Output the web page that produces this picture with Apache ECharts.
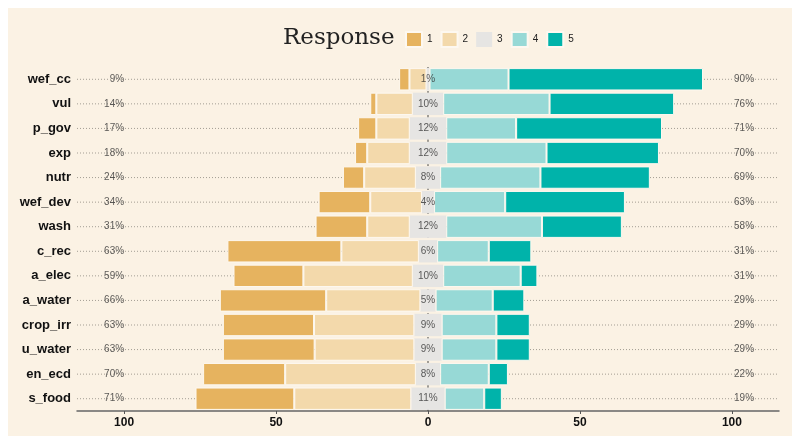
<!DOCTYPE html>
<html>
<head>
<meta charset="utf-8">
<script src="https://cdn.jsdelivr.net/npm/echarts@6/dist/echarts.min.js"></script>
<style>
  html, body { margin: 0; padding: 0; background: #ffffff; }
  #main { width: 800px; height: 445px; }
</style>
</head>
<body>
<div id="main"></div>
<script>
// items, top to bottom
var items = ['wef_cc', 'vul', 'p_gov', 'exp', 'nutr', 'wef_dev', 'wash', 'c_rec', 'a_elec', 'a_water', 'crop_irr', 'u_water', 'en_ecd', 's_food'];
// share of answers per response level (%)
var resp1 = [3.4, 2, 6, 4, 7, 17, 17, 37.5, 23, 35, 30, 30.2, 27, 32.5];
var resp2 = [5.6, 12, 11, 14, 17, 17, 14, 25.5, 36, 31, 33, 32.8, 43, 38.5];
var resp3 = [1, 10, 12, 12, 8, 4, 12, 6, 10, 5, 9, 9, 8, 11];
var resp4 = [26, 35, 23, 33, 33, 23.4, 31.5, 17, 25.5, 18.8, 18, 18, 16, 13];
var resp5 = [64, 41, 48, 37, 36, 39.4, 26.3, 14, 5.5, 10.4, 11, 11, 6.3, 5.8];
var xTicks = [-100, -50, 0, 50, 100];

var colors = ['#e6b35f', '#f3d9ab', '#e6e5e3', '#97d9d6', '#00b3aa'];
var bg = '#fbf2e4';

var chart = echarts.init(document.getElementById('main'), null, { renderer: 'canvas' });

function neg(arr) { return arr.map(function (v) { return -v; }); }
function half(arr, sign) { return arr.map(function (v) { return sign * v / 2; }); }

var lowPct = items.map(function (d, i) { return Math.round(resp1[i] + resp2[i]) + '%'; });
var midPct = items.map(function (d, i) { return Math.round(resp3[i]) + '%'; });
var highPct = items.map(function (d, i) { return Math.round(resp4[i] + resp5[i]) + '%'; });

function barSeries(name, data, color, border) {
  return {
    name: name,
    type: 'bar',
    stack: 'likert',
    data: data,
    barWidth: '91%',
    itemStyle: { color: color, borderColor: border ? '#fdf8f0' : color, borderWidth: border ? 1 : 0 },
    z: 3
  };
}

function textSeries(x, labels, align) {
  return {
    type: 'scatter',
    symbolSize: 0,
    silent: true,
    data: items.map(function (d, i) { return [x, d]; }),
    label: {
      show: true,
      position: 'inside',
      align: align,
      fontSize: 10,
      color: '#333',
      fontFamily: 'Liberation Sans',
      formatter: function (p) { return labels[p.dataIndex]; }
    },
    z: 5
  };
}

var option = {
  backgroundColor: '#ffffff',
  animation: false,
  graphic: [{
    type: 'rect',
    shape: { x: 8, y: 8, width: 784, height: 428 },
    style: { fill: bg },
    z: -10
  }],
  title: {
    text: 'Response',
    left: 283,
    top: 27,
    padding: 0,
    textStyle: { fontSize: 23, fontWeight: 'normal', fontFamily: 'DejaVu Serif', color: '#222' }
  },
  legend: {
    data: ['1', '2', '3', '4', '5'],
    left: 405,
    top: 31,
    padding: 0,
    itemWidth: 16,
    itemHeight: 15,
    itemGap: 8,
    icon: 'rect',
    textStyle: { fontSize: 10, color: '#222', fontFamily: 'Liberation Sans' }
  },
  grid: { left: 77, right: 21, top: 67, bottom: 34 },
  xAxis: {
    type: 'value',
    min: -115.5,
    max: 115.5,
    interval: 50,
    axisLine: { show: true, lineStyle: { color: '#666', width: 1.5 } },
    axisTick: { show: true, length: 3, lineStyle: { color: '#555' }, customValues: xTicks },
    axisLabel: {
      customValues: xTicks,
      formatter: function (v) { return Math.abs(v); },
      fontWeight: 'bold', fontSize: 12, color: '#111', fontFamily: 'Liberation Sans', margin: 6
    },
    splitLine: { show: false }
  },
  yAxis: {
    type: 'category',
    data: items,
    inverse: true,
    axisLine: { show: false },
    axisTick: { show: false },
    axisLabel: { fontWeight: 'bold', fontSize: 13, color: '#111', fontFamily: 'Liberation Sans', margin: 6 },
    splitLine: { show: false }
  },
  series: [
    barSeries('3', half(resp3, -1), colors[2], false),
    barSeries('3', half(resp3, 1), colors[2], false),
    barSeries('2', neg(resp2), colors[1], true),
    barSeries('4', resp4, colors[3], true),
    barSeries('1', neg(resp1), colors[0], true),
    barSeries('5', resp5, colors[4], true),
    // dotted guide lines per item, behind bars
    {
      type: 'custom',
      silent: true,
      z: 1,
      data: items.map(function (d) { return [0, d]; }),
      renderItem: function (params, api) {
        var y = api.coord([0, api.value(1)])[1];
        var cs = params.coordSys;
        return {
          type: 'line',
          shape: { x1: cs.x, y1: y, x2: cs.x + cs.width, y2: y },
          style: { stroke: '#a39d93', lineWidth: 1, lineDash: [1, 2] }
        };
      }
    },
    // dashed zero line behind bars
    {
      type: 'custom',
      silent: true,
      z: 1,
      data: [[0]],
      renderItem: function (params, api) {
        var cs = params.coordSys;
        var x = api.coord([0, items[0]])[0];
        return {
          type: 'line',
          shape: { x1: x, y1: cs.y, x2: x, y2: cs.y + cs.height },
          style: { stroke: '#444', lineWidth: 1, lineDash: [3, 3] }
        };
      }
    },
    textSeries(-100, lowPct, 'right'),
    textSeries(0, midPct, 'center'),
    textSeries(104, highPct, 'center')
  ]
};

chart.setOption(option);
</script>
</body>
</html>
